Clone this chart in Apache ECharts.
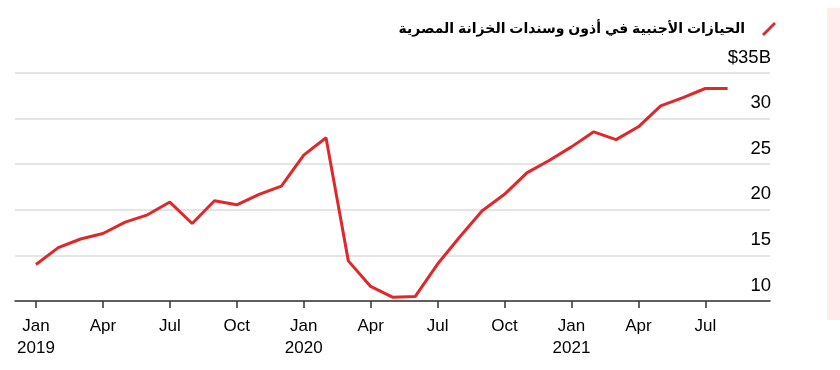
<!DOCTYPE html>
<html>
<head>
<meta charset="utf-8">
<script src="https://cdn.jsdelivr.net/npm/echarts@6/dist/echarts.min.js"></script>
<style>
html,body{margin:0;padding:0;background:#fff;}
#c{width:840px;height:370px;position:relative;}
#strip{position:absolute;left:827px;top:8px;width:13px;height:312px;background:#ffeaec;}
</style>
</head>
<body>
<div id="c"></div>
<script>
const seriesName = 'الحيازات الأجنبية في أذون وسندات الخزانة المصرية';
// monthly, Jan 2019 .. Aug 2021
const months = ['2019-01','2019-02','2019-03','2019-04','2019-05','2019-06','2019-07','2019-08','2019-09','2019-10','2019-11','2019-12',
  '2020-01','2020-02','2020-03','2020-04','2020-05','2020-06','2020-07','2020-08','2020-09','2020-10','2020-11','2020-12',
  '2021-01','2021-02','2021-03','2021-04','2021-05','2021-06','2021-07','2021-08'];
const holdings = [14.0,15.85,16.8,17.4,18.65,19.45,20.85,18.5,21.0,20.55,21.7,22.6,
  26.0,27.9,14.4,11.6,10.4,10.5,14.05,17.05,19.9,21.7,24.05,25.4,
  26.9,28.55,27.7,29.1,31.4,32.3,33.3,33.3];
const xTickIndex = [0,3,6,9,12,15,18,21,24,27,30];
const xTickLabels = ['Jan\n2019','Apr','Jul','Oct','Jan\n2020','Apr','Jul','Oct','Jan\n2021','Apr','Jul'];
const yTicks = [10,15,20,25,30,35];
const yTickLabels = ['10','15','20','25','30','$35B'];

const chart = echarts.init(document.getElementById('c'), null, {renderer:'canvas'});
const font = "'Liberation Sans', Arial, 'DejaVu Sans', sans-serif";
chart.setOption({
  animation:false,
  backgroundColor:'#fff',
  textStyle:{fontFamily:font},
  legend:{
    right:59, top:17,
    align:'right',
    itemWidth:14, itemHeight:14,
    icon:'path://M0,12 L12,0 L14,2 L2,14 Z',
    textStyle:{fontFamily:font, fontWeight:'bold', fontSize:14, color:'#000', padding:[0,12,0,0]},
    data:[{name:seriesName, itemStyle:{color:'#e0282a'}}]
  },
  grid:{left:15, right:70, top:73, bottom:69},
  xAxis:{
    type:'value', min:-0.94, max:32.9,
    splitLine:{show:false},
    axisLine:{show:true, onZero:false, lineStyle:{color:'#333', width:1.5}},
    axisTick:{show:true, length:7, lineStyle:{color:'#333', width:1.5}, customValues:xTickIndex},
    axisLabel:{customValues:xTickIndex, color:'#000', fontSize:17, lineHeight:22, margin:14,
      formatter:function(v){const i = xTickIndex.indexOf(Math.round(v)); return i>=0 ? xTickLabels[i] : '';}}
  },
  yAxis:{
    type:'value', position:'right', min:10, max:35, interval:5,
    axisLine:{show:false}, axisTick:{show:false},
    splitLine:{show:true, lineStyle:{color:'#dcdcdc', width:1.5}},
    axisLabel:{inside:true, margin:-1, color:'#000', fontSize:18.5, verticalAlign:'bottom', padding:[0,0,6,0],
      formatter:function(v){const i = yTicks.indexOf(v); return i>=0 ? yTickLabels[i] : '';}}
  },
  series:[{
    name:seriesName, type:'line', symbol:'none',
    lineStyle:{color:'#e0282a', width:3}, itemStyle:{color:'#e0282a'},
    data: holdings.map((v,i)=>[i,v])
  }]
});
</script>
<div id="strip"></div>
</body>
</html>
